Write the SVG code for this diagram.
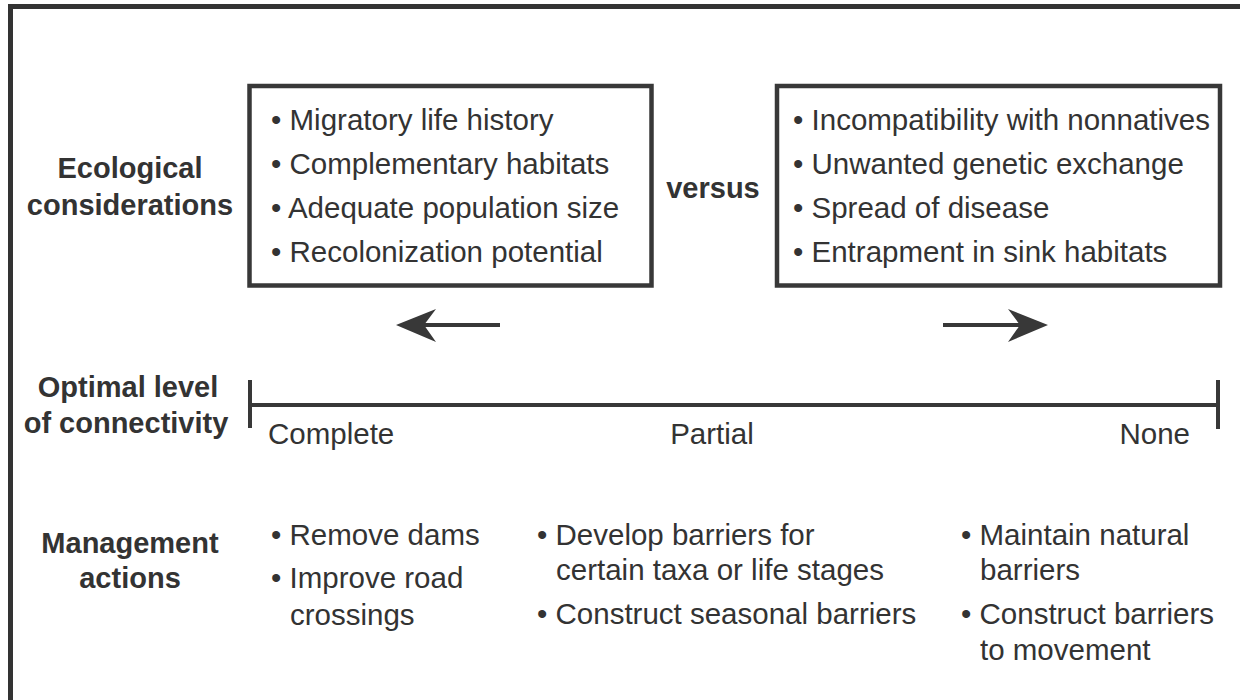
<svg xmlns="http://www.w3.org/2000/svg" width="1240" height="700" viewBox="0 0 1240 700">
<style>
  .lbl { font-family: "Liberation Sans", Arial, Helvetica, sans-serif; font-weight: bold; font-size: 29px; fill: #333; text-anchor: middle; }
  .txt { font-family: "Liberation Sans", Arial, Helvetica, sans-serif; font-size: 29.5px; fill: #333; }
  .box { fill: none; stroke: #383838; stroke-width: 4.5; }
  .ln { fill: none; stroke: #383838; stroke-width: 4; }
  .head { fill: #383838; stroke: none; }
</style>
<rect x="0" y="0" width="1240" height="700" fill="#fff"/>
<g id="frame">
  <path d="M10.5,700 V6.5 H1240" fill="none" stroke="#333" stroke-width="5"/>
</g>
<g id="label-ecological">
  <text class="lbl" x="130" y="178">Ecological</text>
  <text class="lbl" x="130" y="215">considerations</text>
</g>
<g id="box-benefits">
  <rect class="box" x="249.5" y="86" width="402" height="199.5"/>
  <text class="txt" x="271" y="130">• Migratory life history</text>
  <text class="txt" x="271" y="174">• Complementary habitats</text>
  <text class="txt" x="271" y="218">• Adequate population size</text>
  <text class="txt" x="271" y="262">• Recolonization potential</text>
</g>
<g id="label-versus">
  <text class="lbl" x="713" y="198">versus</text>
</g>
<g id="box-risks">
  <rect class="box" x="777" y="86" width="443" height="199.5"/>
  <text class="txt" x="793" y="130">• Incompatibility with nonnatives</text>
  <text class="txt" x="793" y="174">• Unwanted genetic exchange</text>
  <text class="txt" x="793" y="218">• Spread of disease</text>
  <text class="txt" x="793" y="262">• Entrapment in sink habitats</text>
</g>
<g id="connectors">
  <line class="ln" x1="500" y1="325" x2="420" y2="325"/>
  <path class="head" d="M396,325 L436,309 L424,325 L436,342 Z"/>
  <line class="ln" x1="943" y1="325" x2="1025" y2="325"/>
  <path class="head" d="M1048,325 L1008,309 L1020,325 L1008,342 Z"/>
</g>
<g id="label-connectivity">
  <text class="lbl" x="128" y="397">Optimal level</text>
  <text class="lbl" x="126" y="433">of connectivity</text>
</g>
<g id="axis">
  <line class="ln" x1="250" y1="405" x2="1218" y2="405"/>
  <line class="ln" x1="250" y1="380" x2="250" y2="428"/>
  <line class="ln" x1="1218" y1="380" x2="1218" y2="429"/>
  <text class="txt" x="268" y="444">Complete</text>
  <text class="txt" x="712" y="444" text-anchor="middle">Partial</text>
  <text class="txt" x="1190" y="444" text-anchor="end">None</text>
</g>
<g id="label-management">
  <text class="lbl" x="130" y="553">Management</text>
  <text class="lbl" x="130" y="588">actions</text>
</g>
<g id="actions-complete">
  <text class="txt" x="271" y="545">• Remove dams</text>
  <text class="txt" x="271" y="588">• Improve road</text>
  <text class="txt" x="290" y="625">crossings</text>
</g>
<g id="actions-partial">
  <text class="txt" x="537" y="545">• Develop barriers for</text>
  <text class="txt" x="556" y="580">certain taxa or life stages</text>
  <text class="txt" x="537" y="624">• Construct seasonal barriers</text>
</g>
<g id="actions-none">
  <text class="txt" x="961" y="545">• Maintain natural</text>
  <text class="txt" x="980" y="580">barriers</text>
  <text class="txt" x="961" y="624">• Construct barriers</text>
  <text class="txt" x="980" y="660">to movement</text>
</g>
</svg>
